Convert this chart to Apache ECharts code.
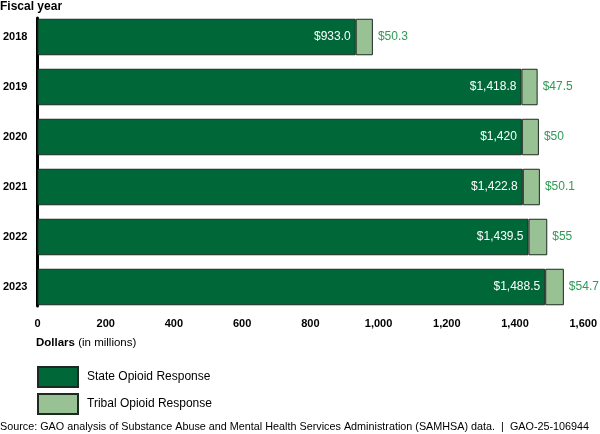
<!DOCTYPE html>
<html>
<head>
<meta charset="utf-8">
<script src="https://cdn.jsdelivr.net/npm/echarts@6/dist/echarts.min.js"></script>
<style>
html,body{margin:0;padding:0;background:#fff;}
#chart{width:600px;height:434px;}
</style>
</head>
<body>
<div id="chart"></div>
<script>
const years = ['2018', '2019', '2020', '2021', '2022', '2023'];
const stateValues = [933.0, 1418.8, 1420, 1422.8, 1439.5, 1488.5];
const tribalValues = [50.3, 47.5, 50, 50.1, 55, 54.7];
const stateLabels = ['$933.0', '$1,418.8', '$1,420', '$1,422.8', '$1,439.5', '$1,488.5'];
const tribalLabels = ['$50.3', '$47.5', '$50', '$50.1', '$55', '$54.7'];
const xTicks = [0, 200, 400, 600, 800, 1000, 1200, 1400, 1600];

const FONT = '"Liberation Sans", Arial, sans-serif';
const chart = echarts.init(document.getElementById('chart'), null, {renderer: 'canvas'});
chart.setOption({
  animation: false,
  textStyle: {fontFamily: FONT},
  grid: [
    {left: 37, right: 15, top: 12, height: 300},
    {left: 37, right: 15, top: 18, height: 288}
  ],
  title: {
    text: 'Fiscal year', left: 0, top: 1, padding: 0,
    textStyle: {fontFamily: FONT, fontSize: 12, fontWeight: 'bold', color: '#000'}
  },
  legend: {
    orient: 'vertical', left: 37, top: 366, padding: 0, itemWidth: 40, itemHeight: 20, itemGap: 5,
    icon: 'rect',
    textStyle: {fontFamily: FONT, fontSize: 12, color: '#000', padding: [0, 0, 0, 4]},
    data: ['State Opioid Response', 'Tribal Opioid Response']
  },
  xAxis: [
    {
      type: 'value', min: xTicks[0], max: xTicks[xTicks.length - 1], interval: 200,
      axisLine: {show: false}, axisTick: {show: false}, splitLine: {show: false},
      axisLabel: {
        margin: 6, fontFamily: FONT, fontSize: 11, fontWeight: 'bold', color: '#000',
        formatter: v => v.toLocaleString('en-US')
      }
    },
    {gridIndex: 1, type: 'value', show: false}
  ],
  yAxis: [
    {
      type: 'category', data: years, inverse: true,
      axisLine: {show: false},
      axisTick: {show: false},
      axisLabel: {margin: 10, fontFamily: FONT, fontSize: 11, fontWeight: 'bold', color: '#000'}
    },
    {
      gridIndex: 1, type: 'category', data: years, inverse: true,
      axisLine: {show: true, lineStyle: {color: '#000', width: 3}},
      axisTick: {show: false}, axisLabel: {show: false}, splitLine: {show: false}
    }
  ],
  series: [
    {
      name: 'State Opioid Response', type: 'bar', stack: 'total', barWidth: '73%',
      data: stateValues,
      itemStyle: {color: '#006838', borderColor: '#1d2a22', borderWidth: 1},
      label: {
        show: true, position: 'insideRight', distance: 5, color: '#fff',
        fontFamily: FONT, fontSize: 12,
        formatter: p => stateLabels[p.dataIndex]
      }
    },
    {
      name: 'Tribal Opioid Response', type: 'bar', stack: 'total',
      data: tribalValues,
      itemStyle: {color: '#98c194', borderColor: '#1d2a22', borderWidth: 1},
      label: {
        show: true, position: 'right', distance: 5, color: '#2e9a55',
        fontFamily: FONT, fontSize: 12,
        formatter: p => tribalLabels[p.dataIndex]
      }
    }
  ],
  graphic: [
    {
      type: 'text', left: 36, top: 337,
      style: {
        text: '{b|Dollars} (in millions)',
        font: '11.5px ' + FONT, fill: '#000',
        rich: {b: {fontWeight: 'bold', fontSize: 11.5, fontFamily: FONT, fill: '#000'}}
      }
    },
    {
      type: 'text', left: 0, top: 422,
      style: {
        text: 'Source: GAO analysis of Substance Abuse and Mental Health Services Administration (SAMHSA) data.  |  GAO-25-106944',
        font: '10.8px ' + FONT, fill: '#000'
      }
    }
  ]
});
</script>
</body>
</html>
